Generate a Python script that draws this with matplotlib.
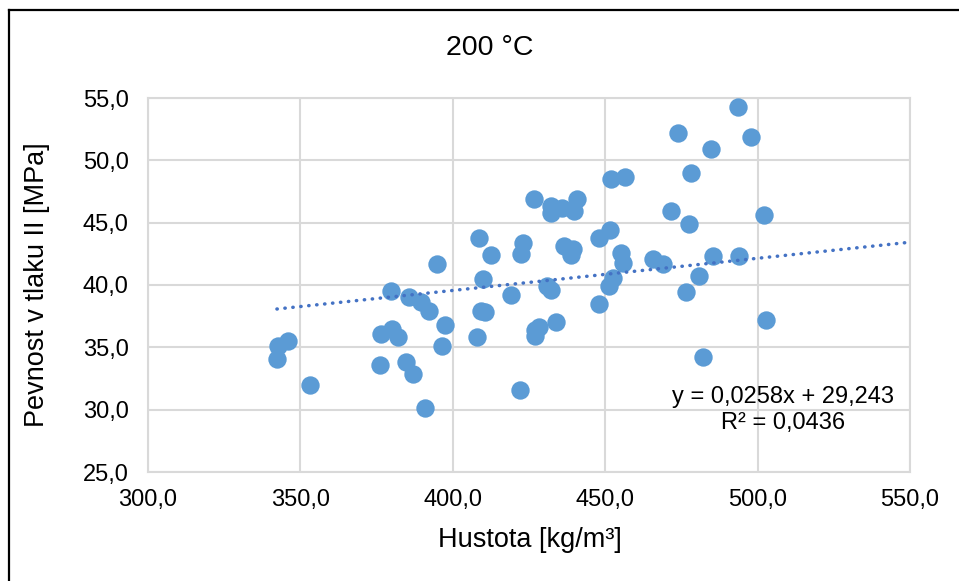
import matplotlib
matplotlib.use("Agg")
import matplotlib.pyplot as plt
from matplotlib.lines import Line2D
from matplotlib.ticker import FuncFormatter
import numpy as np

plt.rcParams['font.family'] = ['Liberation Sans', 'DejaVu Sans']

# density [kg/m3] and compressive strength [MPa]
hustota = [342.6, 342.3, 345.9, 353.1, 376.6, 376.1, 380.1, 382.0, 379.7, 384.6,
           386.9, 385.6, 389.6, 392.2, 390.9, 394.8, 396.5, 397.4, 408.6, 409.3,
           409.9, 410.6, 407.9, 412.5, 419.1, 422.1, 422.4, 423.0, 426.6, 427.0,
           427.0, 428.3, 431.0, 432.2, 432.2, 432.2, 435.8, 433.9, 436.5, 439.4,
           438.8, 439.8, 440.7, 447.9, 447.9, 451.2, 452.6, 451.6, 451.9, 455.2,
           455.8, 456.5, 465.7, 469.0, 471.6, 473.9, 476.5, 477.5, 478.1, 480.8,
           482.1, 484.7, 485.4, 493.6, 493.9, 497.8, 502.1, 502.8]
pevnost = [35.1, 34.1, 35.5, 32.0, 36.1, 33.6, 36.5, 35.8, 39.5, 33.8,
           32.9, 39.0, 38.6, 37.9, 30.1, 41.7, 35.1, 36.8, 43.8, 37.9,
           40.5, 37.8, 35.8, 42.4, 39.2, 31.6, 42.5, 43.4, 46.9, 35.9,
           36.4, 36.6, 39.9, 39.6, 46.3, 45.8, 46.2, 37.0, 43.1, 42.9,
           42.4, 45.9, 46.9, 38.5, 43.8, 39.9, 40.6, 44.4, 48.5, 42.6,
           41.8, 48.7, 42.1, 41.7, 45.9, 52.2, 39.4, 44.9, 49.0, 40.7,
           34.2, 50.9, 42.3, 54.3, 42.3, 51.9, 45.6, 37.2]

# linear trendline as printed on the chart
slope = 0.0258
intercept = 29.243
r2 = 0.0436

fig = plt.figure(figsize=(9.59, 5.81), dpi=100)
ax = fig.add_axes([148 / 959, 1 - 472 / 581, (910 - 148) / 959, (472 - 98) / 581])

# chart border
fig.add_artist(Line2D([9 / 959, 9 / 959], [0, 1 - 10 / 581], transform=fig.transFigure,
                      color='black', lw=1.6))
fig.add_artist(Line2D([9 / 959, 1], [1 - 10 / 581, 1 - 10 / 581], transform=fig.transFigure,
                      color='black', lw=1.6))

ax.scatter(hustota, pevnost, s=175, color='#5B9BD5', zorder=3, linewidths=0)

tx = np.array([min(hustota), 550])
ax.plot(tx, slope * tx + intercept, color='#4472C4', lw=2.5,
        linestyle=(0, (0.1, 2.2)), dash_capstyle='round', zorder=4)

ax.set_xlim(300, 550)
ax.set_ylim(25, 55)
ax.set_xticks(np.arange(300, 551, 50))
ax.set_yticks(np.arange(25, 56, 5))
fmt = FuncFormatter(lambda v, p: f"{v:.1f}".replace('.', ','))
ax.xaxis.set_major_formatter(fmt)
ax.yaxis.set_major_formatter(fmt)
ax.tick_params(length=0, labelsize=17, colors='black')
ax.tick_params(axis='x', pad=12)
ax.tick_params(axis='y', pad=14)
ax.grid(True, color='#D9D9D9', lw=1.5, zorder=0)
ax.set_axisbelow(True)
for s in ax.spines.values():
    s.set_color('#D9D9D9')
    s.set_linewidth(1.5)

eq = f"y = {slope:.4f}x + {intercept:.3f}".replace('.', ',')
ax.text(508.2, 31.0, eq, ha='center', va='center', fontsize=17)
ax.text(508.2, 28.93, f"R² = {r2:.4f}".replace('.', ','), ha='center', va='center', fontsize=17)

fig.text(490 / 959, 1 - 48 / 581, "200 °C", ha='center', va='center', fontsize=20.5)
fig.text(37 / 959, 1 - 285 / 581, "Pevnost v tlaku II [MPa]", ha='center', va='center',
         rotation=90, fontsize=19.5)
fig.text(530 / 959, 1 - 540 / 581, "Hustota [kg/m³]", ha='center', va='center', fontsize=19.5)

fig.savefig("out.png", dpi=100)
